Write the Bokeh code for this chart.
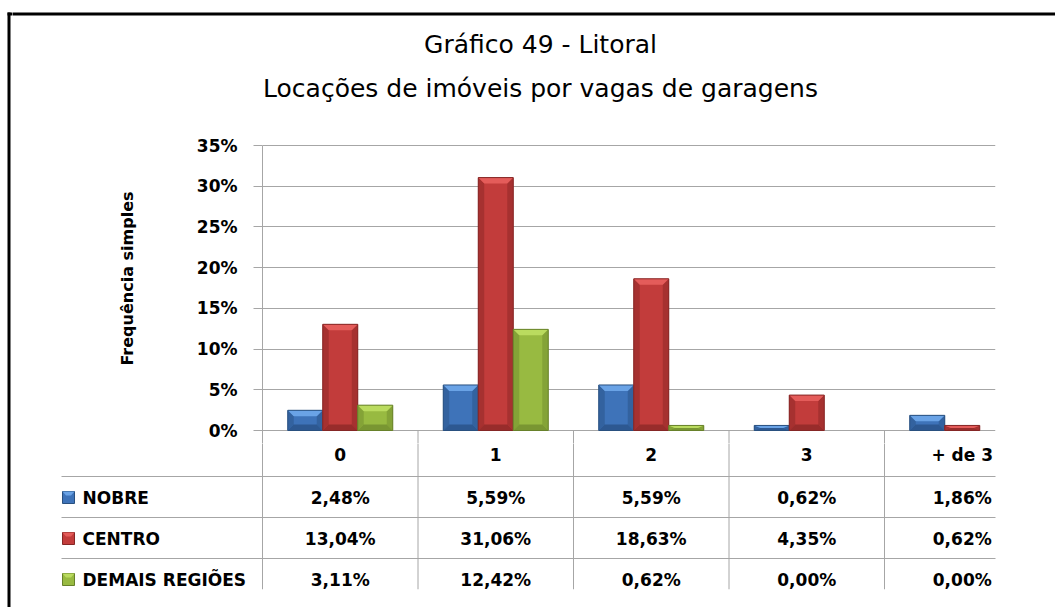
from math import pi

from bokeh.core.properties import value
from bokeh.embed import file_html
from bokeh.layouts import column, row
from bokeh.models import ColumnDataSource, FixedTicker, Range1d
from bokeh.plotting import figure
from bokeh.resources import INLINE

# ---------------- data ----------------
categories = ["0", "1", "2", "3", "+ de 3"]
series_names = ["NOBRE", "CENTRO", "DEMAIS REGIÕES"]
nobre = [2.48, 5.59, 5.59, 0.62, 1.86]
centro = [13.04, 31.06, 18.63, 4.35, 0.62]
demais = [3.11, 12.42, 0.62, 0.00, 0.00]
y_ticks = [0, 5, 10, 15, 20, 25, 30, 35]
chart_title = ["Gráfico 49 - Litoral", "Locações de imóveis por vagas de garagens"]
y_title = "Frequência simples"

series_values = [nobre, centro, demais]

# bevelled-bar shading: face, top bevel, side bevel, bottom bevel, outline
palettes = [
    dict(face="#3e73b9", top="#6aa3e6", side="#33629f", bottom="#2d5891", edge="#29507f"),
    dict(face="#c23c3b", top="#e45c5a", side="#a63130", bottom="#982c2b", edge="#852625"),
    dict(face="#98ba41", top="#badb5f", side="#84a337", bottom="#799632", edge="#67812a"),
]

# ---------------- layout (pixels) ----------------
W, H = 1055, 607
STRIP_W = 12          # narrow strip carrying the left frame line
HEAD_H = 125          # header strip with the title
CHART_BOTTOM = 443    # bottom of the bar-chart strip
LEFT_X = 160          # right edge of the strip holding the vertical axis title
PLOT_L, PLOT_R, PLOT_T, ZERO_Y = 262, 995, 145, 430
CAT_W = 155.5         # width of one category slot
BAR_PX = 35
BEVEL_PX = 6
Y_MAX = 35
CLIP_Y = 589
FONT = "DejaVu Sans"
GRID = "#a6a6a6"
BLACK_X = 8.5
TOP_LINE_Y = 13.5

px_y = Y_MAX / (ZERO_Y - PLOT_T)
y_lo = -(CHART_BOTTOM - ZERO_Y) * px_y
y_hi = Y_MAX + (PLOT_T - HEAD_H) * px_y


def cat_x(px):
    return (px - PLOT_L) / CAT_W


def blank(fig):
    fig.outline_line_color = None
    fig.background_fill_color = "white"
    fig.border_fill_color = "white"
    fig.xgrid.visible = False
    fig.ygrid.visible = False
    return fig


common = dict(output_backend="svg", toolbar_location=None, title=None, frame_align=False)
bare = dict(min_border=0, x_axis_location=None, y_axis_location=None, **common)

# ---------------- outer frame line on the left ----------------
fs = blank(figure(width=STRIP_W, height=H, x_range=Range1d(0, STRIP_W), y_range=Range1d(H, 0), **bare))
fs.segment(x0=[BLACK_X, BLACK_X - 1.5], y0=[TOP_LINE_Y - 1.5, TOP_LINE_Y], x1=[BLACK_X, STRIP_W + 2],
           y1=[H + 2, TOP_LINE_Y], line_color="black", line_width=3)

# ---------------- header: title and top frame line ----------------
hd = blank(figure(width=W - STRIP_W, height=HEAD_H, x_range=Range1d(STRIP_W, W),
                  y_range=Range1d(HEAD_H, 0), **bare))
hd.segment(x0=[STRIP_W - 2], y0=[TOP_LINE_Y], x1=[W + 2], y1=[TOP_LINE_Y],
           line_color="black", line_width=3)
hd.text(x=[540, 540], y=[44, 88], text=chart_title, text_font=value(FONT),
        text_font_size="25px", text_color="black", text_align="center", text_baseline="middle")

# ---------------- strip with the vertical axis title ----------------
chart_h = CHART_BOTTOM - HEAD_H
fl = blank(figure(width=LEFT_X - STRIP_W, height=chart_h, x_range=Range1d(STRIP_W, LEFT_X),
                  y_range=Range1d(CHART_BOTTOM, HEAD_H), **bare))
fl.text(x=[127], y=[278], text=[y_title], angle=pi / 2, text_font=value(FONT),
        text_font_style="bold", text_font_size="16px", text_color="black",
        text_align="center", text_baseline="middle")

# ---------------- bar chart ----------------
pt = figure(width=W - LEFT_X, height=chart_h,
            x_range=Range1d(0, cat_x(PLOT_R)), y_range=Range1d(y_lo, y_hi),
            x_axis_location=None,
            min_border_left=PLOT_L - LEFT_X, min_border_right=W - PLOT_R,
            min_border_top=0, min_border_bottom=0, **common)
pt.outline_line_color = None
pt.background_fill_color = "white"
pt.border_fill_color = "white"
pt.xgrid.visible = False
pt.ygrid.ticker = FixedTicker(ticks=y_ticks)
pt.ygrid.grid_line_color = GRID
pt.ygrid.grid_line_width = 1

ax = pt.yaxis[0]
ax.ticker = FixedTicker(ticks=y_ticks)
ax.bounds = (y_lo, Y_MAX)
ax.major_label_overrides = {t: f"{t}%" for t in y_ticks}
ax.axis_line_color = GRID
ax.major_tick_line_color = GRID
ax.major_tick_out = 9
ax.major_tick_in = 0
ax.minor_tick_line_color = None
ax.major_label_standoff = 16
ax.major_label_text_font = FONT
ax.major_label_text_font_style = "bold"
ax.major_label_text_font_size = "17px"
ax.major_label_text_color = "black"

n_cat = len(categories)
# top of the table's column dividers, below the zero line
pt.segment(x0=list(range(1, n_cat)), y0=[0] * (n_cat - 1),
           x1=list(range(1, n_cat)), y1=[y_lo] * (n_cat - 1), line_color=GRID, line_width=1)

bar_w = BAR_PX / CAT_W
bx_full = BEVEL_PX / CAT_W
by_full = BEVEL_PX * px_y

for s, vals in enumerate(series_values):
    pal = palettes[s]
    left, right, top = [], [], []
    for i, v in enumerate(vals):
        if v <= 0:
            continue
        x0 = i + 0.5 + (s - 1) * bar_w - bar_w / 2
        left.append(x0)
        right.append(x0 + bar_w)
        top.append(v)
    n = len(top)
    src = ColumnDataSource(dict(left=left, right=right, top=top, bottom=[0] * n))
    pt.quad(left="left", right="right", top="top", bottom="bottom", source=src,
            fill_color=pal["face"], line_color=None)

    top_xs, top_ys, bot_xs, bot_ys, side_xs, side_ys = [], [], [], [], [], []
    for x0, x1, t in zip(left, right, top):
        bx = min(bx_full, (x1 - x0) / 2)
        by = min(by_full, t / 2)
        top_xs.append([x0, x1, x1 - bx, x0 + bx])
        top_ys.append([t, t, t - by, t - by])
        bot_xs.append([x0, x1, x1 - bx, x0 + bx])
        bot_ys.append([0, 0, by, by])
        side_xs.append([x0, x0 + bx, x0 + bx, x0])
        side_ys.append([0, by, t - by, t])
        side_xs.append([x1, x1 - bx, x1 - bx, x1])
        side_ys.append([0, by, t - by, t])
    pt.patches(xs=side_xs, ys=side_ys, fill_color=pal["side"], line_color=None)
    pt.patches(xs=bot_xs, ys=bot_ys, fill_color=pal["bottom"], line_color=None)
    pt.patches(xs=top_xs, ys=top_ys, fill_color=pal["top"], line_color=None)
    pt.quad(left="left", right="right", top="top", bottom="bottom", source=src,
            fill_color=None, line_color=pal["edge"], line_width=1)

# ---------------- data table under the chart ----------------
tb = blank(figure(width=W - STRIP_W, height=H - CHART_BOTTOM, x_range=Range1d(cat_x(STRIP_W), cat_x(W)),
                  y_range=Range1d(H, CHART_BOTTOM), **bare))

header_y = 454
row_lines = [476, 517, 558]
row_centers = [497, 538, 579]

# grid of the table
tb.segment(x0=list(range(n_cat)), y0=[CHART_BOTTOM - 2] * n_cat,
           x1=list(range(n_cat)), y1=[CLIP_Y] * n_cat, line_color=GRID, line_width=1)
tb.segment(x0=[cat_x(61)] * 3, y0=row_lines, x1=[cat_x(PLOT_R)] * 3, y1=row_lines,
           line_color=GRID, line_width=1)

text_kw = dict(text_font=value(FONT), text_font_style="bold", text_font_size="17px",
               text_color="black", text_baseline="middle")

tb.text(x=[i + 0.5 for i in range(n_cat)], y=[header_y] * n_cat, text=categories,
        text_align="center", **text_kw)

for s, vals in enumerate(series_values):
    pal = palettes[s]
    yc = row_centers[s]
    labels = [f"{v:.2f}".replace(".", ",") + "%" for v in vals]
    tb.text(x=[i + 0.5 for i in range(n_cat)], y=[yc] * n_cat, text=labels,
            text_align="center", **text_kw)
    tb.text(x=[cat_x(82)], y=[yc], text=[series_names[s]], text_align="left", **text_kw)
    # legend key
    k0, k1 = cat_x(62), cat_x(74)
    tb.quad(left=[k0], right=[k1], top=[yc - 6], bottom=[yc + 6],
            fill_color=pal["face"], line_color=pal["edge"], line_width=1)
    kb = 3.5 / CAT_W
    tb.patches(xs=[[k0, k1, k1 - kb, k0 + kb]], ys=[[yc - 6, yc - 6, yc - 2, yc - 2]],
               fill_color=pal["top"], line_color=None)

# the table is cut off at the bottom edge
tb.quad(left=[cat_x(STRIP_W)], right=[cat_x(W)], top=[CLIP_Y], bottom=[H + 2],
        fill_color="white", line_color=None)

layout = row(fs, column(hd, row(fl, pt), tb))

with open("out.html", "w") as f:
    f.write(file_html(layout, INLINE))
